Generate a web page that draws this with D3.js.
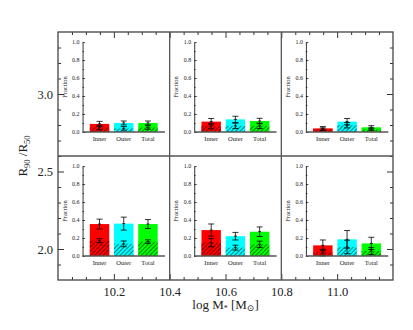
<!DOCTYPE html>
<html>
<head>
<meta charset="utf-8">
<script src="https://cdn.jsdelivr.net/npm/d3@7"></script>
<style>
  body { margin: 0; background: #fff; }
  svg { display: block; }
  svg text { font-family: "Liberation Serif", "DejaVu Serif", serif; }
</style>
</head>
<body>
<div id="chart"></div>
<script>
// panel edges in the two outer coordinates
const massEdges = [10.0, 10.4, 10.8, 11.2];
const concEdges = [3.4, 2.6, 1.8];          // top row first
const massTicks = [10.2, 10.4, 10.6, 10.8, 11.0];
const concTicks = [2.0, 2.5, 3.0];
const fracTicks = [0, 0.2, 0.4, 0.6, 0.8, 1.0];
const categories = ["Inner", "Outer", "Total"];
const colors = ["#ff0000", "#00ffff", "#00ff00"];

// panels: top-left, top-mid, top-right, bottom-left, bottom-mid, bottom-right
const fracAll = [
  [0.09, 0.10, 0.10],
  [0.115, 0.14, 0.122],
  [0.04, 0.115, 0.052],
  [0.355, 0.36, 0.355],
  [0.288, 0.22, 0.27],
  [0.118, 0.185, 0.14]
];
const errAll = [
  [0.028, 0.022, 0.022],
  [0.035, 0.035, 0.03],
  [0.02, 0.035, 0.018],
  [0.055, 0.072, 0.05],
  [0.068, 0.042, 0.053],
  [0.06, 0.098, 0.068]
];
const fracSub = [
  [0.05, 0.04, 0.05],
  [0.065, 0.068, 0.068],
  [0.03, 0.075, 0.03],
  [0.17, 0.135, 0.16],
  [0.148, 0.093, 0.13],
  [0.037, 0.1, 0.055]
];
const errSub = [
  [0.025, 0.02, 0.02],
  [0.03, 0.03, 0.03],
  [0.015, 0.03, 0.015],
  [0.022, 0.032, 0.02],
  [0.045, 0.027, 0.035],
  [0.037, 0.075, 0.038]
];

const W = 413, H = 330;
const svg = d3.select("#chart").append("svg").attr("width", W).attr("height", H);

const x = d3.scaleLinear().domain([10.0, 11.2]).range([58, 393]);
const y = d3.scaleLinear().domain([1.8, 3.4]).range([280, 32]);

// hatch patterns
const defs = svg.append("defs");
colors.forEach((c, i) => {
  const p = defs.append("pattern")
    .attr("id", "hatch" + i)
    .attr("patternUnits", "userSpaceOnUse")
    .attr("width", 3).attr("height", 3)
    .attr("patternTransform", "rotate(45)");
  p.append("rect").attr("width", 3).attr("height", 3).attr("fill", c);
  p.append("line").attr("x1", 1.5).attr("y1", 0).attr("x2", 1.5).attr("y2", 3)
    .attr("stroke", d3.color(c).darker(2.2)).attr("stroke-width", 0.9);
});

// insets
let k = 0;
concEdges.slice(0, 2).forEach((cHi) => {
  massEdges.slice(0, 3).forEach((mLo) => {
    const idx = k++;
    const left = x(mLo + 0.088), right = x(mLo + 0.383);
    const xi = d3.scaleBand().domain(categories).range([left, right])
      .paddingInner(0.2).paddingOuter(0.3);
    const yi = d3.scaleLinear().domain([0, 1]).range([y(cHi - 0.645), y(cHi - 0.065)]);
    const g = svg.append("g");

    // full bars
    g.selectAll(".full").data(categories).join("rect")
      .attr("x", d => xi(d)).attr("width", xi.bandwidth())
      .attr("y", (d, i) => yi(fracAll[idx][i]))
      .attr("height", (d, i) => yi(0) - yi(fracAll[idx][i]))
      .attr("fill", (d, i) => colors[i]);
    // hatched part
    g.selectAll(".sub").data(categories).join("rect")
      .attr("x", d => xi(d)).attr("width", xi.bandwidth())
      .attr("y", (d, i) => yi(fracSub[idx][i]))
      .attr("height", (d, i) => yi(0) - yi(fracSub[idx][i]))
      .attr("fill", (d, i) => "url(#hatch" + i + ")");

    // error bars
    const drawErr = (vals, errs) => {
      categories.forEach((d, i) => {
        const cx = xi(d) + xi.bandwidth() / 2;
        const lo = Math.max(0, vals[i] - errs[i]), hi = vals[i] + errs[i];
        g.append("line").attr("x1", cx).attr("x2", cx)
          .attr("y1", yi(lo)).attr("y2", yi(hi))
          .attr("stroke", "#000").attr("stroke-width", 0.8);
        [lo, hi].forEach(v => {
          g.append("line").attr("x1", cx - 3).attr("x2", cx + 3)
            .attr("y1", yi(v)).attr("y2", yi(v))
            .attr("stroke", "#000").attr("stroke-width", 0.8);
        });
        g.append("line").attr("x1", cx - 1.5).attr("x2", cx + 1.5)
          .attr("y1", yi(vals[i])).attr("y2", yi(vals[i]))
          .attr("stroke", "#000").attr("stroke-width", 0.8);
      });
    };
    drawErr(fracAll[idx], errAll[idx]);
    drawErr(fracSub[idx], errSub[idx]);

    // inset y axis
    const ax = g.append("g").attr("transform", `translate(${left},0)`)
      .call(d3.axisLeft(yi).tickValues(fracTicks).tickFormat(d3.format(".1f"))
        .tickSizeInner(-2.5).tickSizeOuter(0).tickPadding(3));
    ax.attr("font-family", null).attr("font-size", null);
    ax.select(".domain").attr("stroke", "#000").attr("stroke-width", 0.8);
    ax.selectAll(".tick line").attr("stroke", "#000").attr("stroke-width", 0.7);
    ax.selectAll("text").attr("font-size", 6).attr("fill", "#222");
    g.append("g").attr("transform", `translate(${left},0)`)
      .call(d3.axisLeft(yi).tickValues([0.1, 0.3, 0.5, 0.7, 0.9]).tickFormat("")
        .tickSizeInner(-1.5).tickSizeOuter(0))
      .call(s => s.select(".domain").remove())
      .selectAll("line").attr("stroke", "#000").attr("stroke-width", 0.6);

    // baseline
    g.append("line").attr("x1", left).attr("x2", right)
      .attr("y1", yi(0)).attr("y2", yi(0))
      .attr("stroke", "#555").attr("stroke-width", 1.4);

    // category labels
    g.selectAll(".cat").data(categories).join("text")
      .attr("x", d => xi(d) + xi.bandwidth() / 2)
      .attr("y", yi(0) + 9)
      .attr("text-anchor", "middle").attr("font-size", 6.5).attr("fill", "#222")
      .text(d => d);

    // Fraction label
    g.append("text")
      .attr("transform", `translate(${left - 16},${yi(0.5)}) rotate(-90)`)
      .attr("text-anchor", "middle").attr("font-size", 6.5).attr("fill", "#222")
      .text("Fraction");
  });
});

// outer axes with inward ticks
const frame = svg.append("g");
const styleAxis = s => {
  s.attr("font-family", null).attr("font-size", null);
  s.select(".domain").remove();
  s.selectAll("line").attr("stroke", "#333").attr("stroke-width", 1);
};
const minorX = d3.range(10.05, 11.2, 0.05).filter(v => Math.abs(v * 5 - Math.round(v * 5)) > 0.01);
const minorY = d3.range(1.9, 3.4, 0.1).filter(v => Math.abs(v * 2 - Math.round(v * 2)) > 0.01);

frame.append("g").attr("transform", `translate(0,${y(1.8)})`)
  .call(d3.axisBottom(x).tickValues(massTicks).tickFormat(d3.format(".1f"))
    .tickSizeInner(-6).tickSizeOuter(0).tickPadding(7))
  .call(styleAxis)
  .selectAll("text").attr("font-size", 12.5).attr("fill", "#222");
frame.append("g").attr("transform", `translate(0,${y(1.8)})`)
  .call(d3.axisBottom(x).tickValues(minorX).tickFormat("").tickSizeInner(-3).tickSizeOuter(0))
  .call(styleAxis);
frame.append("g").attr("transform", `translate(0,${y(3.4)})`)
  .call(d3.axisTop(x).tickValues(massTicks).tickFormat("").tickSizeInner(-6).tickSizeOuter(0))
  .call(styleAxis);
frame.append("g").attr("transform", `translate(0,${y(3.4)})`)
  .call(d3.axisTop(x).tickValues(minorX).tickFormat("").tickSizeInner(-3).tickSizeOuter(0))
  .call(styleAxis);

frame.append("g").attr("transform", `translate(${x(10.0)},0)`)
  .call(d3.axisLeft(y).tickValues(concTicks).tickFormat(d3.format(".1f"))
    .tickSizeInner(-6).tickSizeOuter(0).tickPadding(5))
  .call(styleAxis)
  .selectAll("text").attr("font-size", 12.5).attr("fill", "#222");
frame.append("g").attr("transform", `translate(${x(10.0)},0)`)
  .call(d3.axisLeft(y).tickValues(minorY).tickFormat("").tickSizeInner(-3).tickSizeOuter(0))
  .call(styleAxis);
frame.append("g").attr("transform", `translate(${x(11.2)},0)`)
  .call(d3.axisRight(y).tickValues(concTicks).tickFormat("").tickSizeInner(-6).tickSizeOuter(0))
  .call(styleAxis);
frame.append("g").attr("transform", `translate(${x(11.2)},0)`)
  .call(d3.axisRight(y).tickValues(minorY).tickFormat("").tickSizeInner(-3).tickSizeOuter(0))
  .call(styleAxis);

// frame and panel dividers
frame.append("rect")
  .attr("x", x(10.0)).attr("y", y(3.4))
  .attr("width", x(11.2) - x(10.0)).attr("height", y(1.8) - y(3.4))
  .attr("fill", "none").attr("stroke", "#444").attr("stroke-width", 1.3);
massEdges.slice(1, 3).forEach(m => {
  frame.append("line").attr("x1", x(m)).attr("x2", x(m))
    .attr("y1", y(3.4)).attr("y2", y(1.8))
    .attr("stroke", "#555").attr("stroke-width", 1.3);
});
frame.append("line").attr("x1", x(10.0)).attr("x2", x(11.2))
  .attr("y1", y(2.6)).attr("y2", y(2.6))
  .attr("stroke", "#555").attr("stroke-width", 1.3);

// axis titles
const xt = svg.append("text")
  .attr("x", (x(10.0) + x(11.2)) / 2).attr("y", 309)
  .attr("text-anchor", "middle").attr("font-size", 13).attr("fill", "#222");
xt.append("tspan").text("log M");
xt.append("tspan").attr("font-size", 8).attr("dy", 2).text("*");
xt.append("tspan").attr("dy", -2).text(" [M");
xt.append("tspan").attr("font-size", 9).attr("dy", 2).text("\u2299");
xt.append("tspan").attr("dy", -2).text("]");

const yt = svg.append("text")
  .attr("transform", `translate(27,${y(2.6)}) rotate(-90)`)
  .attr("text-anchor", "middle").attr("font-size", 13).attr("fill", "#222");
yt.append("tspan").text("R");
yt.append("tspan").attr("font-size", 8.5).attr("dy", 3).text("90");
yt.append("tspan").attr("dy", -3).text(" /R");
yt.append("tspan").attr("font-size", 8.5).attr("dy", 3).text("50");
</script>
</body>
</html>
